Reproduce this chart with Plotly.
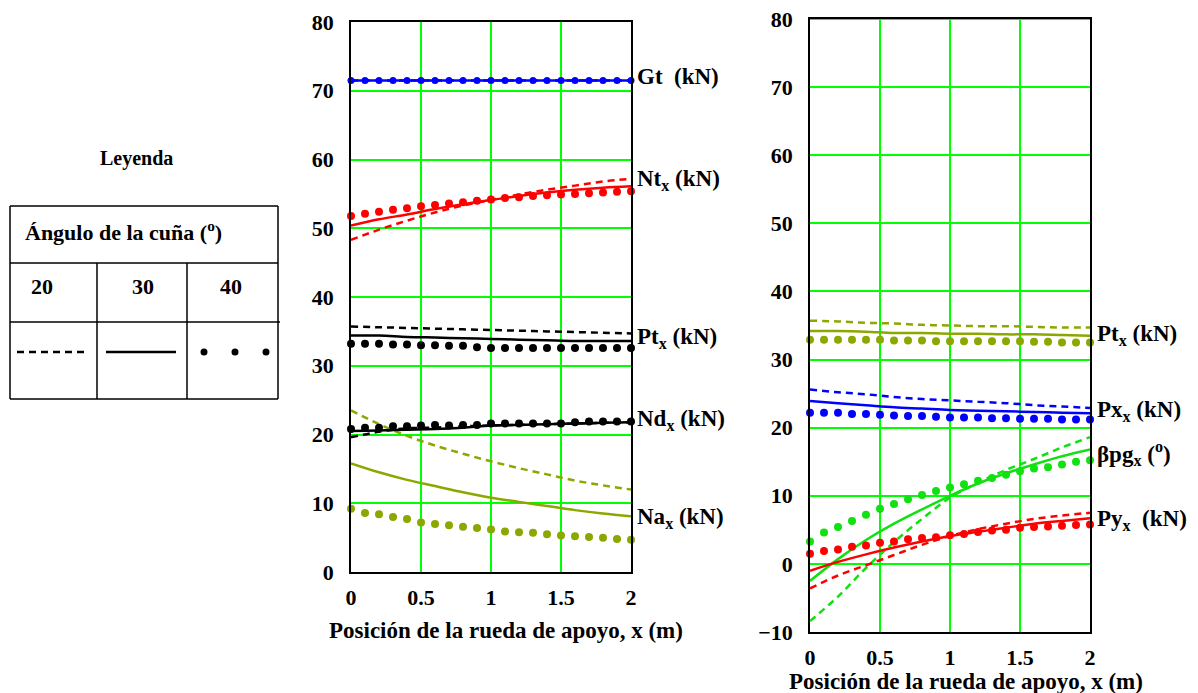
import plotly.graph_objects as go

W, H = 1198, 693
OFF = 8  # page body margin of the browser

# ---------------- data ----------------
X_LINE = [0.0, 0.2, 0.4, 0.6, 0.8, 1.0, 1.2, 1.4, 1.6, 1.8, 2.0]
X_DOT = [0.0, 0.1, 0.2, 0.3, 0.4, 0.5, 0.6, 0.7, 0.8, 0.9, 1.0,
         1.1, 1.2, 1.3, 1.4, 1.5, 1.6, 1.7, 1.8, 1.9, 2.0]

# Left panel
GT_20 = [71.5] * 11
GT_30 = [71.5] * 11
GT_40 = [71.5] * 21
NT_20 = [48.3, 49.8, 51.1, 52.3, 53.3, 54.1, 54.9, 55.6, 56.2, 56.8, 57.2]
NT_30 = [50.4, 51.3, 52.0, 52.8, 53.5, 54.1, 54.7, 55.2, 55.6, 55.9, 56.1]
NT_40 = [51.8, 52.1, 52.4, 52.7, 52.9, 53.2, 53.4, 53.6, 53.8, 54.0, 54.2,
         54.4, 54.5, 54.7, 54.8, 54.9, 55.0, 55.1, 55.2, 55.3, 55.4]
PT_20 = [35.7, 35.6, 35.5, 35.4, 35.3, 35.2, 35.1, 35.0, 34.9, 34.8, 34.7]
PT_30 = [34.4, 34.4, 34.2, 34.1, 34.0, 33.9, 33.8, 33.7, 33.6, 33.6, 33.6]
PT_40 = [33.2, 33.2, 33.2, 33.1, 33.1, 33.0, 33.0, 32.9, 32.9, 32.7, 32.6,
         32.6, 32.6, 32.6, 32.6, 32.6, 32.6, 32.6, 32.6, 32.6, 32.6]
ND_20 = [19.6, 20.4, 20.9, 21.0, 21.2, 21.3, 21.4, 21.5, 21.6, 21.7, 21.8]
ND_30 = [20.5, 20.6, 20.7, 20.8, 21.0, 21.3, 21.4, 21.5, 21.6, 21.7, 21.8]
ND_40 = [20.8, 21.0, 21.0, 21.2, 21.2, 21.3, 21.4, 21.3, 21.4, 21.4, 21.6,
         21.6, 21.6, 21.6, 21.6, 21.6, 21.8, 21.9, 21.9, 21.9, 21.9]
NA_20 = [23.5, 21.5, 19.8, 18.4, 17.2, 16.1, 15.1, 14.2, 13.3, 12.6, 12.0]
NA_30 = [15.8, 14.5, 13.4, 12.5, 11.6, 10.8, 10.2, 9.6, 9.0, 8.5, 8.1]
NA_40 = [9.2, 8.6, 8.4, 8.0, 7.7, 7.2, 7.0, 6.8, 6.6, 6.4, 6.2,
         5.9, 5.8, 5.7, 5.5, 5.3, 5.2, 5.1, 5.0, 4.8, 4.7]

# Right panel
PTR_20 = [35.7, 35.6, 35.4, 35.3, 35.1, 35.0, 34.9, 34.9, 34.8, 34.7, 34.7]
PTR_30 = [34.2, 34.2, 34.1, 33.9, 33.9, 33.8, 33.8, 33.7, 33.7, 33.6, 33.5]
PTR_40 = [32.9, 32.9, 32.9, 32.9, 32.9, 32.9, 32.8, 32.8, 32.8, 32.7, 32.7,
          32.7, 32.7, 32.7, 32.7, 32.7, 32.6, 32.6, 32.5, 32.5, 32.5]
PX_20 = [25.6, 25.2, 24.9, 24.5, 24.2, 24.0, 23.8, 23.6, 23.3, 23.1, 22.9]
PX_30 = [23.9, 23.6, 23.3, 23.0, 22.8, 22.6, 22.5, 22.4, 22.3, 22.2, 22.1]
PX_40 = [22.2, 22.2, 22.2, 22.0, 22.0, 21.9, 21.8, 21.7, 21.7, 21.6, 21.5,
         21.5, 21.5, 21.4, 21.4, 21.3, 21.3, 21.3, 21.2, 21.2, 21.2]
BPG_20 = [-8.4, -4.8, -0.6, 3.2, 6.6, 9.7, 11.9, 13.8, 15.4, 17.1, 18.6]
BPG_30 = [-2.5, 0.7, 3.5, 5.9, 8.0, 10.0, 11.8, 13.3, 14.6, 15.8, 16.8]
BPG_40 = [3.3, 4.6, 5.4, 6.3, 7.2, 8.1, 8.8, 9.5, 10.1, 10.7, 11.2,
          11.7, 12.2, 12.6, 13.1, 13.6, 14.0, 14.2, 14.6, 15.0, 15.2]
PY_20 = [-3.6, -1.7, -0.2, 1.3, 2.8, 4.1, 5.1, 5.9, 6.6, 7.1, 7.5]
PY_30 = [-1.0, 0.3, 1.4, 2.4, 3.3, 4.1, 4.7, 5.3, 5.9, 6.3, 6.7]
PY_40 = [1.5, 1.9, 2.1, 2.5, 2.7, 3.1, 3.3, 3.6, 3.8, 3.9, 4.2,
         4.4, 4.7, 4.9, 5.0, 5.3, 5.4, 5.5, 5.6, 5.7, 5.8]

X_TICKS = [0, 0.5, 1, 1.5, 2]
X_TICKTEXT = ["0", "0.5", "1", "1.5", "2"]
Y_TICKS_L = [0, 10, 20, 30, 40, 50, 60, 70, 80]
Y_TICKS_R = [-10, 0, 10, 20, 30, 40, 50, 60, 70, 80]

LEFT_LABELS = ["Gt&nbsp; (kN)", "Nt<sub>x</sub> (kN)", "Pt<sub>x</sub> (kN)",
               "Nd<sub>x</sub> (kN)", "Na<sub>x</sub> (kN)"]
RIGHT_LABELS = ["Pt<sub>x</sub> (kN)", "Px<sub>x</sub> (kN)",
                "βpg<sub>x</sub> (<sup>o</sup>)", "Py<sub>x</sub>&nbsp; (kN)"]
X_TITLE = "Posición de la rueda de apoyo, x (m)"

# ---------------- style ----------------
RED = "#ff0000"
BLUE = "#0000ff"
BLACK = "#000000"
OLIVE = "#8aa800"
GREEN = "#11e011"
GRID = "#00ff00"
FONT = "Liberation Serif"
DASH = "7px,5px"


def px(x):
    return (x - OFF) / W


def py(y):
    return 1 - (y - OFF) / H


fig = go.Figure()


def add_group(xa, ya, l20, l30, d40, color, dot_size=8):
    fig.add_trace(go.Scatter(x=X_LINE, y=l20, mode="lines", xaxis=xa, yaxis=ya,
                             line=dict(color=color, width=2.5, dash=DASH, shape="spline"),
                             showlegend=False, hoverinfo="skip"))
    fig.add_trace(go.Scatter(x=X_LINE, y=l30, mode="lines", xaxis=xa, yaxis=ya,
                             line=dict(color=color, width=2.5, shape="spline"),
                             showlegend=False, hoverinfo="skip"))
    fig.add_trace(go.Scatter(x=X_DOT, y=d40, mode="markers", xaxis=xa, yaxis=ya,
                             marker=dict(color=color, size=dot_size),
                             cliponaxis=False, showlegend=False, hoverinfo="skip"))


add_group("x", "y", NA_20, NA_30, NA_40, OLIVE)
add_group("x", "y", ND_20, ND_30, ND_40, BLACK)
add_group("x", "y", PT_20, PT_30, PT_40, BLACK)
add_group("x", "y", NT_20, NT_30, NT_40, RED)
add_group("x", "y", GT_20, GT_30, GT_40, BLUE, dot_size=7)

add_group("x2", "y2", PTR_20, PTR_30, PTR_40, OLIVE)
add_group("x2", "y2", PX_20, PX_30, PX_40, BLUE)
add_group("x2", "y2", BPG_20, BPG_30, BPG_40, GREEN)
add_group("x2", "y2", PY_20, PY_30, PY_40, RED)

tickfont = dict(family=FONT, size=22, color="black")
axis_common = dict(showgrid=True, gridcolor=GRID, gridwidth=2, zeroline=False,
                   showline=True, linecolor="black", linewidth=1.5, mirror=True,
                   ticks="", tickfont=tickfont, fixedrange=True, automargin=False,
                   ticklabeloverflow="allow")

fig.update_layout(
    width=W, height=H, margin=dict(l=0, r=0, t=0, b=0, pad=0, autoexpand=False),
    autosize=False,
    paper_bgcolor="white", plot_bgcolor="white", showlegend=False,
    font=dict(family=FONT, color="black"),
    xaxis=dict(domain=[px(351), px(631)], range=[0, 2], tickvals=X_TICKS,
               ticktext=["<b>%s</b>" % t for t in X_TICKTEXT], anchor="y",
               ticklabelstandoff=5, **axis_common),
    yaxis=dict(domain=[py(572), py(22)], range=[0, 80], tickvals=Y_TICKS_L,
               ticktext=["<b>%d</b>" % v for v in Y_TICKS_L], anchor="x",
               ticklabelstandoff=11, **axis_common),
    xaxis2=dict(domain=[px(810), px(1090)], range=[0, 2], tickvals=X_TICKS,
                ticktext=["<b>%s</b>" % t for t in X_TICKTEXT], anchor="y2",
                ticklabelstandoff=5, **axis_common),
    yaxis2=dict(domain=[py(632), py(19)], range=[-10, 80], tickvals=Y_TICKS_R,
                ticktext=["<b>%s</b>" % ("\u221210" if v == -10 else str(v)) for v in Y_TICKS_R],
                anchor="x2", ticklabelstandoff=11, **axis_common),
)

ann = []
lab_font = dict(family=FONT, size=23, color="black")
for text, yy in zip(LEFT_LABELS, [77, 180, 338, 420, 518]):
    ann.append(dict(x=px(635), y=py(yy), xref="paper", yref="paper", text="<b>%s</b>" % text,
                    showarrow=False, xanchor="left", yanchor="middle", font=lab_font))
for text, yy in zip(RIGHT_LABELS, [335, 411, 453, 520]):
    ann.append(dict(x=px(1095), y=py(yy), xref="paper", yref="paper", text="<b>%s</b>" % text,
                    showarrow=False, xanchor="left", yanchor="middle", font=lab_font))

title_font = dict(family=FONT, size=23, color="black")
ann.append(dict(x=px(506), y=py(630), xref="paper", yref="paper", text="<b>%s</b>" % X_TITLE,
                showarrow=False, xanchor="center", yanchor="middle", font=title_font))
ann.append(dict(x=px(966), y=py(681), xref="paper", yref="paper", text="<b>%s</b>" % X_TITLE,
                showarrow=False, xanchor="center", yanchor="middle", font=title_font))

# Legend table texts
ann.append(dict(x=px(136), y=py(158), xref="paper", yref="paper", text="<b>Leyenda</b>",
                showarrow=False, xanchor="center", yanchor="middle",
                font=dict(family=FONT, size=20, color="black")))
leg_font = dict(family=FONT, size=22, color="black")
ann.append(dict(x=px(23), y=py(231), xref="paper", yref="paper",
                text="<b>Ángulo de la cuña (<sup>o</sup>)</b>",
                showarrow=False, xanchor="left", yanchor="middle", font=leg_font))
for t, xx in zip(["20", "30", "40"], [42, 143, 231]):
    ann.append(dict(x=px(xx), y=py(286), xref="paper", yref="paper", text="<b>%s</b>" % t,
                    showarrow=False, xanchor="center", yanchor="middle", font=leg_font))

shapes = []


def pline(x0, y0, x1, y1, width=1.5, color="black", dash="solid"):
    shapes.append(dict(type="line", xref="paper", yref="paper",
                       x0=px(x0), y0=py(y0), x1=px(x1), y1=py(y1),
                       line=dict(color=color, width=width, dash=dash)))


# table frame
pline(10, 206, 278, 206)
pline(10, 206, 10, 399)
pline(278, 206, 278, 399)
pline(10, 399, 278, 399)
pline(10, 263, 278, 263)
pline(10, 322, 280, 322)
pline(97, 263, 97, 399)
pline(187, 263, 187, 399)
# legend samples
pline(17, 352, 87, 352, width=2.5, dash="7px,5px")
pline(106, 352, 176, 352, width=2.5)
for cx in [204, 235, 266]:
    shapes.append(dict(type="circle", xref="paper", yref="paper",
                       x0=px(cx - 3.5), x1=px(cx + 3.5), y0=py(352 + 3.5), y1=py(352 - 3.5),
                       fillcolor="black", line=dict(width=0)))
# green top gridline on right panel
shapes.append(dict(type="line", xref="x2", yref="y2", x0=0, x1=2, y0=80, y1=80,
                   line=dict(color=GRID, width=2), layer="above"))

fig.update_layout(annotations=ann, shapes=shapes)
fig.write_html("out.html")
